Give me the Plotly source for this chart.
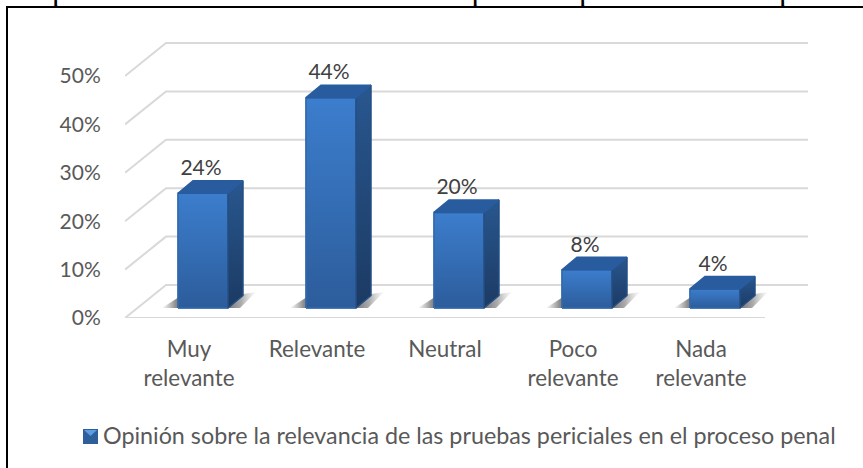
import plotly.graph_objects as go

categories = ["Muy<br>relevante", "Relevante", "Neutral", "Poco<br>relevante", "Nada<br>relevante"]
values = [24, 44, 20, 8, 4]
y_ticks = [0, 10, 20, 30, 40, 50]
y_labels = ["0%", "10%", "20%", "30%", "40%", "50%"]
legend_name = "Opinión sobre la relevancia de las pruebas periciales en el proceso penal"
heading = "Opinión sobre la relevancia de las pruebas periciales en el proceso"

W, H = 863, 468
L, R, T, B = 125, 3, 30, 150
PX_X = 128.0
PX_Y = 4.84
PX_BAR = 4.78
FLOOR_LIFT = 10
FONT = "Lato"

px_w = W - L - R
px_h = H - T - B
x_range = [-0.5, -0.5 + px_w / PX_X]
y_range = [0, px_h / PX_Y]
y2_range = [-FLOOR_LIFT / PX_BAR, (px_h - FLOOR_LIFT) / PX_BAR]

ux = lambda p: p / PX_X
uy = lambda p: p / PX_Y
ub = lambda p: p / PX_BAR

fig = go.Figure()

GRID = "#d9d9d9"
wall_dx, wall_dy = ux(41), uy(33)
wall_end = 4.5 + ux(43)
for t in y_ticks:
    fig.add_trace(go.Scatter(x=[-0.5, -0.5 + wall_dx, wall_end], y=[t, t + wall_dy, t + wall_dy],
                             mode="lines", line=dict(color=GRID, width=2), cliponaxis=False,
                             hoverinfo="skip", showlegend=False))
fig.add_trace(go.Scatter(x=[-0.5, 4.5], y=[0, 0], mode="lines", line=dict(color=GRID, width=2),
                         cliponaxis=False, hoverinfo="skip", showlegend=False))

bar_off = ux(14)
half = ux(25)
dx, dy = ux(15), ub(12.5)
centers = [i + bar_off for i in range(len(values))]


def poly(xs, ys, color=None, gradient=None, line=None):
    kw = dict(x=xs + xs[:1], y=ys + ys[:1], yaxis="y2", mode="lines", fill="toself",
              hoverinfo="skip", showlegend=False, cliponaxis=False)
    kw["line"] = dict(color=line or "rgba(0,0,0,0)", width=1.5 if line else 0)
    if color:
        kw["fillcolor"] = color
    if gradient:
        kw["fillgradient"] = gradient
    fig.add_trace(go.Scatter(**kw))


for c in centers:
    xl, xr = c - half, c + half
    poly([xl - ux(16), xl + ux(4), xl + ux(4)], [0, ub(13), 0],
         gradient=dict(type="horizontal", colorscale=[[0, "rgba(140,140,140,0.05)"], [0.65, "rgba(110,110,110,0.75)"], [1, "rgba(90,90,90,0.95)"]]))
    poly([xr - ux(2), xr + dx, xr + ux(28), xr + ux(12)], [0, ub(14), ub(16), 0],
         gradient=dict(type="horizontal", colorscale=[[0, "rgba(90,90,90,0.9)"], [0.5, "rgba(125,125,125,0.65)"], [1, "rgba(170,170,170,0.03)"]]))

fig.add_trace(go.Bar(x=centers, y=values, base=0, width=2 * half, yaxis="y2", cliponaxis=False,
                     marker=dict(color="#3268ad", line=dict(color="#2f64a8", width=1)),
                     hoverinfo="skip", showlegend=False))

for c, v in zip(centers, values):
    xl, xr = c - half, c + half
    poly([xl, xr, xr, xl], [0, 0, v, v], line="#3268ab",
         gradient=dict(type="vertical", colorscale=[[0, "#2c5c9b"], [0.55, "#356fb7"], [1, "#3c7dcd"]]))
    poly([xr, xr + dx, xr + dx, xr], [0, dy, v + dy, v], line="#234f85",
         gradient=dict(type="vertical", colorscale=[[0, "#1c3a63"], [1, "#28578f"]]))
    poly([xl, xr, xr + dx, xl + dx], [v, v, v + dy, v + dy], color="#295c9f", line="#295c9f")

fig.add_trace(go.Scatter(x=[c - ux(2) for c in centers], y=[v + dy + ub(0.5) for v in values], yaxis="y2",
                         mode="text", text=[f"{v}%" for v in values], textposition="top center",
                         textfont=dict(family=FONT, size=21, color="#404040"), cliponaxis=False,
                         hoverinfo="skip", showlegend=False))

fig.add_trace(go.Scatter(x=[None], y=[None], mode="markers", name=legend_name,
                         marker=dict(symbol="square", size=15, color="rgba(0,0,0,0)", line=dict(width=0)),
                         hoverinfo="skip"))

px = lambda p: (p - L) / px_w
py = lambda p: 1 - (p - T) / px_h

fig.add_shape(type="rect", xref="paper", yref="paper", x0=px(7), x1=px(W + 20), y0=py(H + 20), y1=py(7),
              line=dict(color="#000000", width=2), fillcolor="rgba(0,0,0,0)", layer="below")

# legend key: bevelled square
fig.add_shape(type="rect", xref="paper", yref="paper", x0=px(83), x1=px(98), y0=py(444), y1=py(429),
              line=dict(width=0), fillcolor="#2f5f9b")
fig.add_shape(type="path", xref="paper", yref="paper", line=dict(width=0), fillcolor="#5b9ce2",
              path=f"M {px(84)} {py(430)} L {px(97)} {py(430)} L {px(90.5)} {py(436)} Z")

fig.add_annotation(text=heading, xref="paper", yref="paper", x=px(26.5), y=py(0), xanchor="left", yanchor="bottom",
                   yshift=-9, showarrow=False, font=dict(family="Liberation Serif", size=32, color="#000000"))

fig.update_layout(
    width=W, height=H, autosize=False,
    margin=dict(l=L, r=R, t=T, b=B, autoexpand=False),
    paper_bgcolor="#ffffff", plot_bgcolor="rgba(0,0,0,0)",
    font=dict(family=FONT, size=21, color="#595959"),
    showlegend=True, barmode="overlay",
    legend=dict(orientation="h", x=px(63), y=py(413), xanchor="left", yanchor="top",
                font=dict(family=FONT, size=23.3, color="#595959"), bgcolor="rgba(0,0,0,0)",
                itemwidth=30),
    xaxis=dict(range=x_range, tickvals=list(range(len(categories))), ticktext=categories,
               showgrid=False, zeroline=False, showline=False, ticks="outside", ticklen=11,
               tickcolor="rgba(0,0,0,0)", tickfont=dict(family=FONT, size=22.4, color="#595959")),
    yaxis=dict(range=y_range, tickvals=y_ticks, ticktext=y_labels, showgrid=False, zeroline=False,
               showline=False, ticks="outside", ticklen=19, tickcolor="rgba(0,0,0,0)",
               tickfont=dict(family=FONT, size=21, color="#595959")),
    yaxis2=dict(range=y2_range, overlaying="y", visible=False),
)

fig.write_html("out.html", config={"displayModeBar": False},
               post_script="document.body.style.margin='0';document.body.style.overflow='hidden';")
